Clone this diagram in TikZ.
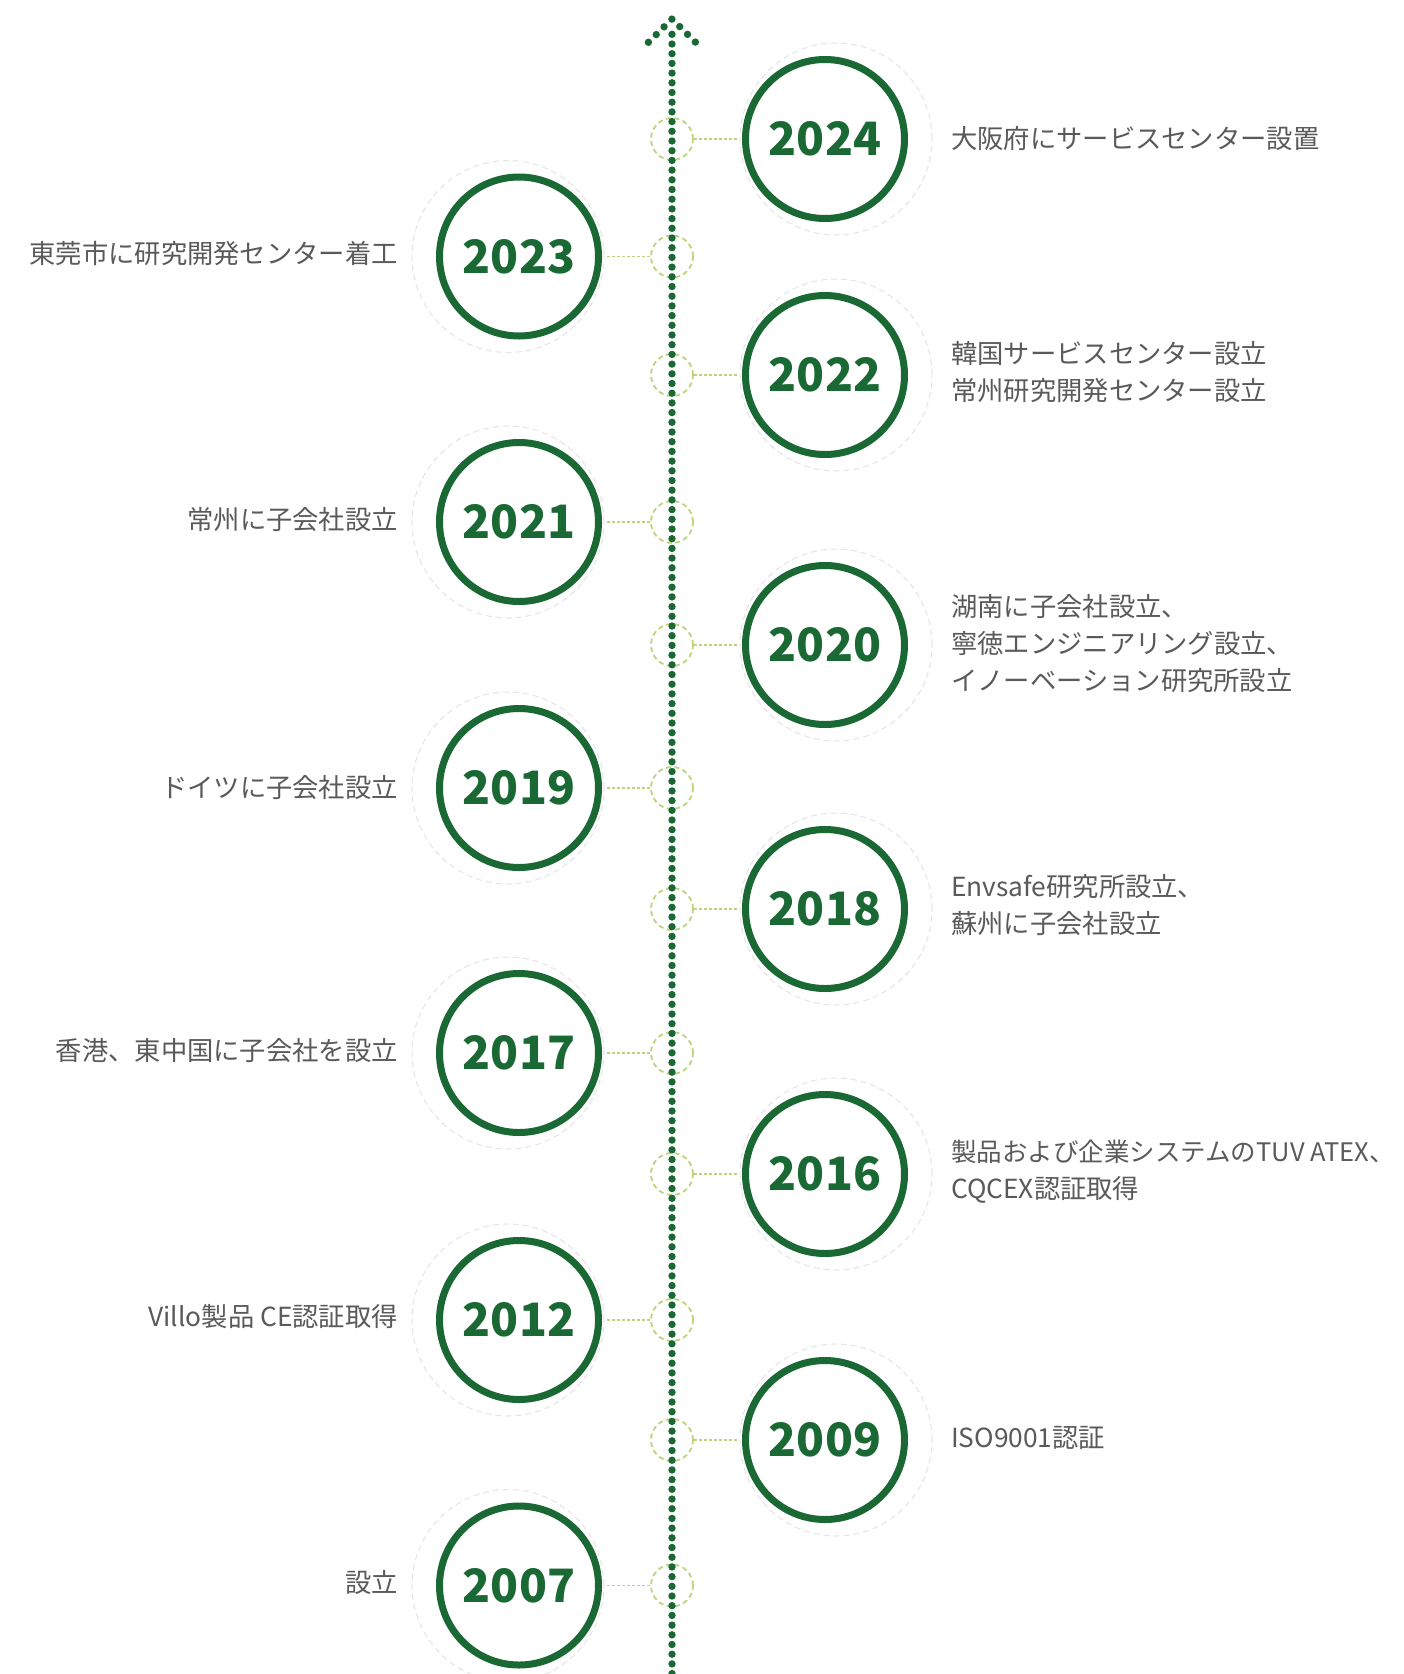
\documentclass[tikz,border=0pt]{standalone}
\usepackage{fontspec}
\setmainfont{Noto Sans CJK JP}
\newfontfamily\jpfont{Noto Sans CJK JP}
\usetikzlibrary{calc}
\definecolor{dgreen}{HTML}{1A6934}
\definecolor{lgreen}{HTML}{BFD27C}
\definecolor{ringgray}{HTML}{E4E4E4}
\definecolor{txtgray}{HTML}{5A5A5A}
\tikzset{
  yearc/.style={circle, draw=dgreen, line width=7pt, minimum size=159pt, inner sep=0pt,
    text=dgreen, font=\jpfont\bfseries\fontsize{46pt}{50pt}\selectfont},
  axc/.style={circle, draw=lgreen, line width=1.8pt, dash pattern=on 5pt off 3.5pt,
    minimum size=42pt, inner sep=0pt},
  conn/.style={draw=lgreen, line width=1.3pt, dash pattern=on 3pt off 2pt, shorten >=3.5pt},
  dotline/.style={draw=dgreen, line width=7.4pt, line cap=round, dash pattern=on 0pt off 9.7pt},
  faint/.style={draw=ringgray, line width=1pt, dash pattern=on 6pt off 4pt},
  rt/.style={anchor=west, inner sep=0pt, align=left, text=txtgray,
    font=\jpfont\fontsize{26.3pt}{37pt}\selectfont},
  lt/.style={anchor=east, inner sep=0pt, align=right, text=txtgray,
    font=\jpfont\fontsize{26.3pt}{37pt}\selectfont},
}
\begin{document}
\begin{tikzpicture}[x=1pt,y=-1pt]
\useasboundingbox (0,0) rectangle (1404,1674);
\fill[white] (0,0) rectangle (1404,1674);
% faint outer rings
\foreach \yy in {139,375,645,909,1174,1440}{
  \draw[faint] (836,\yy) circle (96pt);
}
\foreach \yy in {256.5,522,788,1053,1320,1585.5}{
  \draw[faint] (508,\yy) circle (96pt);
}
% right column
\node[yearc] (y2024) at (825,139) {2024};
\node[yearc] (y2022) at (825,375) {2022};
\node[yearc] (y2020) at (825,645) {2020};
\node[yearc] (y2018) at (825,909) {2018};
\node[yearc] (y2016) at (825,1174) {2016};
\node[yearc] (y2009) at (825,1440) {2009};
% left column
\node[yearc] (y2023) at (519,256.5) {2023};
\node[yearc] (y2021) at (519,522) {2021};
\node[yearc] (y2019) at (519,788) {2019};
\node[yearc] (y2017) at (519,1053) {2017};
\node[yearc] (y2012) at (519,1320) {2012};
\node[yearc] (y2007) at (519,1585.5) {2007};
% axis circles
\foreach \n/\yy in {2024/139,2023/256.5,2022/375,2021/522,2020/645,2019/788,2018/909,2017/1053,2016/1174,2012/1320,2009/1440,2007/1585.5}{
  \node[axc] (a\n) at (672,\yy) {};
}
% connectors
\foreach \n in {2024,2023,2022,2021,2020,2019,2018,2017,2016,2012,2009,2007}{
  \draw[conn] (a\n) -- (y\n);
}
% dotted axis with arrow
\coordinate (top) at (672,34.3);
\coordinate (bot) at (672,1690);
\coordinate (tip) at (672,19);
\coordinate (al) at (648.4,42.3);
\coordinate (ar) at (695.6,42.3);
\draw[dotline] (top) -- (bot);
\draw[dotline, dash pattern=on 0pt off 11pt] (al) -- (tip) -- (ar);
% texts right
\node[rt] (t2024) at (951,139) {大阪府にサービスセンター設置};
\node[rt] (t2022) at (951,372.5) {韓国サービスセンター設立\\常州研究開発センター設立};
\node[rt] (t2020) at (951,643.5) {湖南に子会社設立、\\寧徳エンジニアリング設立、\\イノーベーション研究所設立};
\node[rt] (t2018) at (951,905) {Envsafe研究所設立、\\蘇州に子会社設立};
\node[rt] (t2016) at (951,1172) {{\fontsize{25.5pt}{37pt}\selectfont 製品および企業システムのTUV ATEX、}\\CQCEX認証取得};
\node[rt] (t2009) at (951,1438) {ISO9001認証};
% texts left
\node[lt] (t2023) at (398,253) {東莞市に研究開発センター着工};
\node[lt] (t2021) at (398,520) {常州に子会社設立};
\node[lt] (t2019) at (398,788) {ドイツに子会社設立};
\node[lt] (t2017) at (398,1051) {香港、東中国に子会社を設立};
\node[lt] (t2012) at (398,1317) {Villo製品 CE認証取得};
\node[lt] (t2007) at (398,1582) {設立};
\end{tikzpicture}
\end{document}
